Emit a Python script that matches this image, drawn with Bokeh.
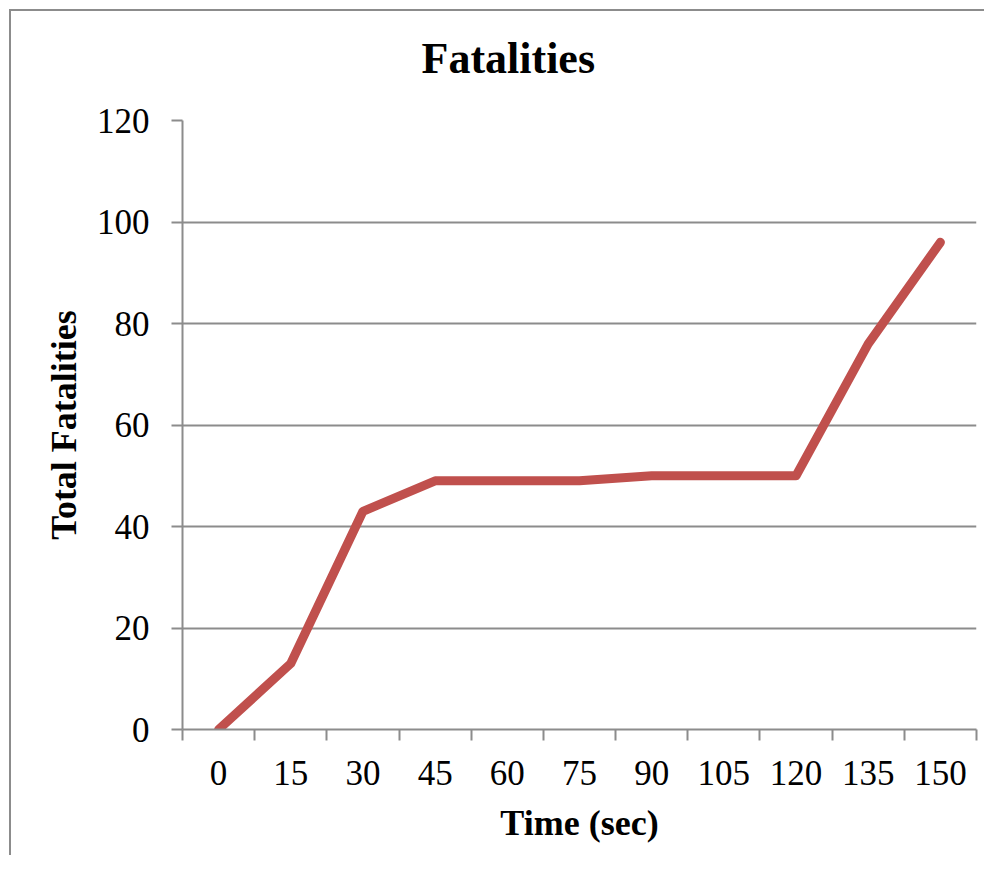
from bokeh.plotting import figure
from bokeh.models import Range1d, FixedTicker, Title
from bokeh.embed import file_html
from bokeh.resources import INLINE

# Data
times = [0, 15, 30, 45, 60, 75, 90, 105, 120, 135, 150]
fatalities = [0, 13, 43, 49, 49, 49, 50, 50, 50, 76, 96]
y_ticks = [0, 20, 40, 60, 80, 100, 120]
title_text = "Fatalities"

x_pos = [i + 0.5 for i in range(len(times))]

FONT = "Liberation Serif"
GRAY = "#8c8c8c"

p = figure(width=975, height=846, output_backend="svg", toolbar_location=None,
           x_range=Range1d(0, len(times)), y_range=Range1d(0, 120),
           min_border_left=171, min_border_right=10, min_border_top=109,
           min_border_bottom=128, title=None)
p.styles = {"border-left": "2px solid #8c8c8c", "border-top": "2px solid #8c8c8c",
            "margin-left": "9px", "margin-top": "9px"}

p.outline_line_color = None
p.background_fill_color = "white"
p.border_fill_color = "white"

p.line(x_pos, fatalities, line_color="#C0504D", line_width=9,
       line_cap="round", line_join="round")

# spacer between frame and title, then the title
spacer = Title(text=" ", text_font_size="1px", standoff=25)
main_title = Title(text=title_text, text_font=FONT, text_font_size="44px",
                   text_font_style="bold", text_color="black", align="left",
                   offset=239, standoff=20)
p.add_layout(spacer, "above")
p.add_layout(main_title, "above")

# X axis
xa = p.xaxis[0]
xa.ticker = FixedTicker(ticks=x_pos, minor_ticks=list(range(len(times) + 1)))
xa.major_label_overrides = {x: str(t) for x, t in zip(x_pos, times)}
xa.major_tick_out = 0
xa.major_tick_in = 0
xa.minor_tick_out = 11
xa.minor_tick_in = 0
xa.minor_tick_line_color = GRAY
xa.minor_tick_line_width = 2
xa.axis_line_color = GRAY
xa.axis_line_width = 2
xa.major_label_text_font = FONT
xa.major_label_text_font_size = "35px"
xa.major_label_text_color = "black"
xa.major_label_standoff = 20
xa.axis_label = "Time (sec)"
xa.axis_label_text_font = FONT
xa.axis_label_text_font_size = "36px"
xa.axis_label_text_font_style = "bold"
xa.axis_label_text_color = "black"
xa.axis_label_standoff = 15

# Y axis
ya = p.yaxis[0]
ya.ticker = FixedTicker(ticks=y_ticks, minor_ticks=[])
ya.major_tick_out = 11
ya.major_tick_in = 0
ya.major_tick_line_color = GRAY
ya.major_tick_line_width = 2
ya.minor_tick_line_color = None
ya.axis_line_color = GRAY
ya.axis_line_width = 2
ya.major_label_text_font = FONT
ya.major_label_text_font_size = "35px"
ya.major_label_text_color = "black"
ya.major_label_standoff = 22
ya.axis_label = "Total Fatalities"
ya.axis_label_text_font = FONT
ya.axis_label_text_font_size = "36px"
ya.axis_label_text_font_style = "bold"
ya.axis_label_text_color = "black"
ya.axis_label_standoff = 10

# Grid
p.xgrid.grid_line_color = None
p.ygrid.ticker = FixedTicker(ticks=y_ticks)
p.ygrid.grid_line_color = GRAY
p.ygrid.grid_line_width = 2

open("out.html", "w").write(file_html(p, INLINE))
